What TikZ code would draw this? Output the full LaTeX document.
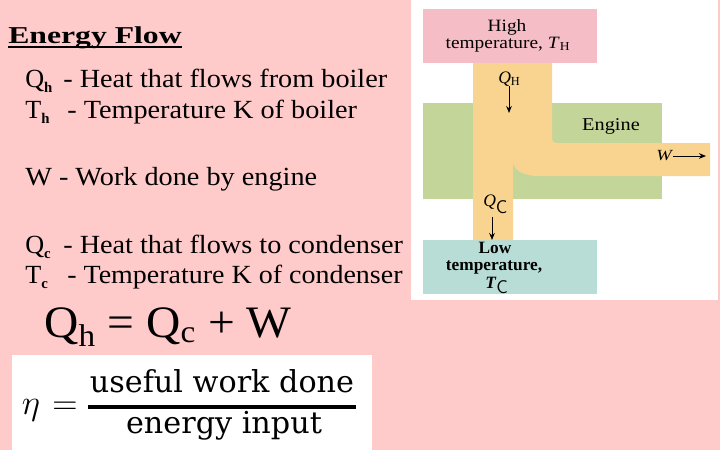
\documentclass[tikz,border=0pt]{standalone}
\usepackage{fontspec}
\setmainfont{Liberation Serif}
\newfontfamily\ratiofont{DejaVu Serif}
\usepackage{amsmath}
\usepackage{graphicx}
\usetikzlibrary{arrows.meta,positioning}
\definecolor{slidepink}{HTML}{FFCACA}
\definecolor{hotpink}{HTML}{F5BDC6}
\definecolor{flowyellow}{HTML}{F8D490}
\definecolor{enginegreen}{HTML}{C4D59A}
\definecolor{coldteal}{HTML}{B8DDD6}
\newcommand{\stretchx}[2]{\scalebox{#1}[1]{#2}}
\newcommand{\boldsub}[1]{\raisebox{-4pt}{\fontsize{10.5}{11}\selectfont\bfseries #1}}
\tikzset{
  legendline/.style={anchor=base west, inner sep=0pt, font=\fontsize{18.6}{22}\selectfont},
  boxlabel/.style={anchor=base, inner sep=0pt, font=\fontsize{12.3}{14}\selectfont},
  coldlabel/.style={anchor=base, inner sep=0pt, font=\bfseries\fontsize{12.3}{14}\selectfont},
  flowlabel/.style={anchor=base west, inner sep=0pt, font=\fontsize{12.5}{14}\selectfont},
  flowarrow/.style={-{Stealth[length=5pt,width=4pt]}, line width=0.7pt},
  ratioline/.style={anchor=base, inner sep=0pt, font=\ratiofont\fontsize{21.5}{24}\selectfont}
}
\begin{document}
\begin{tikzpicture}[x=0.025cm, y=-0.025cm]
  \useasboundingbox (0,0) rectangle (720,450);
  \fill[slidepink] (0,0) rectangle (720,450);
  % heat engine panel
  \fill[white] (411,0) rectangle (718,300);
  \fill[hotpink] (423,9) rectangle (597,63);
  \fill[enginegreen] (423,103) rectangle (662,199);
  \fill[coldteal] (423,240) rectangle (597,294);
  \fill[flowyellow] (473,63) -- (552,63) -- (552,134) .. controls (552,143) .. (561,143)
    -- (710,143) -- (710,176) -- (540,176) .. controls (522,176) and (513,170) .. (513,160)
    -- (513,240) -- (473,240) -- cycle;
  \node[boxlabel] (hotline1) at (507,31) {\stretchx{1.12}{High}};
  \node[boxlabel] (hotline2) at (508,48) {\stretchx{1.12}{temperature, \textit{T}\textsubscript{H}}};
  \node[coldlabel] (coldline1) at (495,253) {Low};
  \node[coldlabel] (coldline2) at (494,270) {temperature,};
  \node[coldlabel, anchor=base west] (coldline3) at (485,288)
    {\textit{T}\raisebox{-4pt}{\fontsize{13}{13}\mdseries\sffamily C}};
  \node[boxlabel, font=\fontsize{12.8}{14}\selectfont] (engine) at (611,130) {\stretchx{1.13}{Engine}};
  \node[flowlabel] (qhot) at (498,83) {\textit{Q}\textsubscript{H}};
  \node[flowlabel] (qcold) at (483,206) {\textit{Q}\raisebox{-5pt}{\fontsize{13}{13}\sffamily C}};
  \node[flowlabel, font=\fontsize{11}{12}\selectfont] (work) at (656,160) {\stretchx{1.2}{\textit{W}}};
  \coordinate (qhstart) at (509,86);
  \coordinate (qhend) at (509,113);
  \coordinate (qcstart) at (492,217);
  \coordinate (qcend) at (492,240);
  \coordinate (wend) at (706,156);
  \draw[flowarrow] (qhstart) -- (qhend);
  \draw[flowarrow] (qcstart) -- (qcend);
  \draw[flowarrow] (work.east |- wend) -- (wend);
  % legend
  \node[anchor=base west, inner sep=0pt, font=\bfseries\fontsize{17.2}{20}\selectfont] (title) at (8,43)
    {\stretchx{1.31}{Energy Flow}};
  \draw[line width=1.4pt] ([yshift=-3pt]title.base west) -- ([yshift=-3pt]title.base east);
  \node[legendline] (qhsym) at (25,87) {Q\boldsub{h}};
  \node[legendline] (qhtext) at (63,87) {\stretchx{1.08}{- Heat that flows from boiler}};
  \node[legendline] (thsym) at (25,118) {T\boldsub{h}};
  \node[legendline] (thtext) at (67,118) {\stretchx{1.08}{- Temperature K of boiler}};
  \node[legendline] (wline) at (25,185) {\stretchx{1.08}{W - Work done by engine}};
  \node[legendline] (qcsym) at (25,253) {Q\boldsub{c}};
  \node[legendline] (qctext) at (63,253) {\stretchx{1.08}{- Heat that flows to condenser}};
  \node[legendline] (tcsym) at (25,283) {T\boldsub{c}};
  \node[legendline] (tctext) at (67,283) {\stretchx{1.07}{- Temperature K of condenser}};
  \node[anchor=base west, inner sep=0pt, font=\fontsize{32}{36}\selectfont] (balance) at (44,337)
    {\stretchx{1.055}{Q\textsubscript{h} = Q\textsubscript{c} + W}};
  % efficiency
  \fill[white] (12,355) rectangle (372,450);
  \node[inner sep=0pt, font=\fontsize{27}{30}\selectfont] (eta) at (31,410) {$\eta$};
  \node[inner sep=0pt, font=\fontsize{24}{28}\selectfont] (equals) at (65,408) {$=$};
  \node[ratioline] (useful) at (222,392) {useful work done};
  \node[ratioline] (energyin) at (224,433) {energy input};
  \coordinate (barleft) at (88,407);
  \coordinate (barright) at (356,407);
  \draw[line width=2.2pt] (barleft) -- (barright);
\end{tikzpicture}
\end{document}
